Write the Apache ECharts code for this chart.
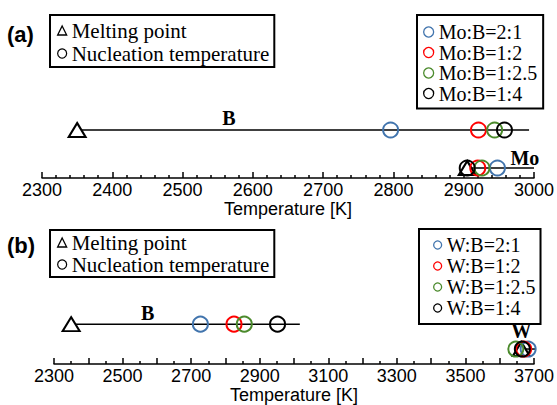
<!DOCTYPE html>
<html><head><meta charset="utf-8">
<script src="https://cdn.jsdelivr.net/npm/echarts@6/dist/echarts.min.js"></script>
<style>html,body{margin:0;padding:0;background:#fff}#c{width:557px;height:405px}</style>
</head><body><div id="c"></div>
<script>
// ---------- Panel (a): Mo-B ----------
const ratiosA   = ['Mo:B=2:1', 'Mo:B=1:2', 'Mo:B=1:2.5', 'Mo:B=1:4'];
const nucA_onB  = [2796, 2921, 2944, 2958];   // nucleation temperatures on the B row
const nucA_onMo = [2948, 2920, 2926, 2905];   // nucleation temperatures on the Mo row
const meltA     = [2350, 2905];               // melting points: B, Mo
const lineEndA  = [2993, 3000];               // end of B row line, Mo row line
const elemA     = ['B', 'Mo'];
const elemXA    = [2566, 2987];
const ticksA    = [2300, 2400, 2500, 2600, 2700, 2800, 2900, 3000];

// ---------- Panel (b): W-B ----------
const ratiosB   = ['W:B=2:1', 'W:B=1:2', 'W:B=1:2.5', 'W:B=1:4'];
const nucB_onB  = [2727, 2825, 2855, 2952];
const nucB_onW  = [3683, 3670, 3647, 3666];
const meltB     = [2350, 3663];               // melting points: B, W
const lineEndB  = [3017, 3718];
const elemB     = ['B', 'W'];
const elemXB    = [2573, 3663];
const ticksB    = [2300, 2500, 2700, 2900, 3100, 3300, 3500, 3700];

const markerNames = ['Melting point', 'Nucleation temperature'];
const colors = ['#4174ad', '#ff0000', '#4b8a2c', '#000000'];

// row levels inside each grid (hidden y axis)
const ROW_A = [48, 10];   // B row, Mo row
const ROW_B = [45, 17];   // B row, W row
const LBL_A = [12, 10];
const LBL_B = [13, 20];

const serif = 'Liberation Serif';
const sans = 'Liberation Sans';

function rowLine(id, gi, x0, x1, y) {
  return {type: 'line', name: id, xAxisIndex: gi, yAxisIndex: gi, data: [[x0, y], [x1, y]],
    showSymbol: false, symbol: 'none', clip: false, silent: true, z: 1,
    lineStyle: {color: '#000', width: 1.5}};
}
function meltSeries(gi, melt, rows) {
  return {type: 'scatter', name: markerNames[0], xAxisIndex: gi, yAxisIndex: gi,
    data: [[melt[0], rows[0]], [melt[1], rows[1]]], symbol: 'triangle', symbolSize: [17, 14],
    clip: false, z: 2, itemStyle: {color: '#fff', borderColor: '#000', borderWidth: 2, opacity: 1}};
}
function nucSeries(gi, names, onB, onX, rows) {
  return names.map((n, i) => ({type: 'scatter', name: n, xAxisIndex: gi, yAxisIndex: gi,
    data: [[onB[i], rows[0]], [onX[i], rows[1]]], symbol: 'circle', symbolSize: 15, clip: false, z: 3 + i,
    itemStyle: {color: 'rgba(255,255,255,0)', borderColor: colors[i], borderWidth: 2, opacity: 1}}));
}
function elemLabels(gi, names, xs, rows, offs) {
  return {type: 'scatter', name: 'elem' + gi, xAxisIndex: gi, yAxisIndex: gi, symbolSize: 0, silent: true,
    clip: false, z: 10, itemStyle: {color: '#000', opacity: 1},
    data: names.map((n, i) => ({name: n, value: [xs[i], rows[i] + offs[i]]})),
    label: {show: true, position: 'inside', formatter: p => p.name,
      fontFamily: serif, fontWeight: 'bold', fontSize: 20, color: '#000',
      textBorderWidth: 0, textBorderColor: 'transparent', textShadowBlur: 0}};
}
function xAxis(gi, min, max, minorSplit, labels, gap) {
  return {type: 'value', gridIndex: gi, min: min, max: max, interval: 100,
    axisLine: {show: true, lineStyle: {color: '#000', width: 1.5}},
    axisTick: {show: true, inside: true, length: 6, lineStyle: {color: '#000', width: 1.5}},
    minorTick: {show: true, splitNumber: minorSplit, length: 3, lineStyle: {color: '#000', width: 1.5}},
    splitLine: {show: false},
    axisLabel: {margin: 3, fontFamily: sans, fontSize: 18, color: '#000',
      formatter: v => labels.indexOf(v) >= 0 ? String(v) : ''},
    name: 'Temperature [K]', nameLocation: 'middle', nameGap: gap,
    nameTextStyle: {fontFamily: sans, fontSize: 18, color: '#000'}};
}
function legendBox(data, left, top, font, gap, iw, pad) {
  return {data: data, left: left, top: top, orient: 'vertical', selectedMode: false,
    itemWidth: iw, itemHeight: iw, itemGap: gap, padding: pad,
    borderColor: '#000', borderWidth: 2, borderRadius: 0, backgroundColor: '#fff',
    itemStyle: {borderWidth: 1.3},
    textStyle: {fontFamily: serif, fontSize: font, color: '#000', lineHeight: 19, padding: [0, 0, 0, 0]}};
}
const markerLegend = [
  {name: markerNames[0]},
  {name: markerNames[1], icon: 'circle', itemStyle: {color: '#fff', borderColor: '#000', borderWidth: 1.2}}
];

const chart = echarts.init(document.getElementById('c'), null, {renderer: 'svg'});
chart.setOption({
  animation: false,
  backgroundColor: '#fff',
  grid: [
    {left: 42, right: 20, top: 120, height: 58},
    {left: 54, right: 20, top: 310, height: 61}
  ],
  xAxis: [xAxis(0, 2300, 3000, 5, ticksA, 20), xAxis(1, 2300, 3700, 2, ticksB, 18)],
  yAxis: [
    {type: 'value', gridIndex: 0, min: 0, max: 58, show: false},
    {type: 'value', gridIndex: 1, min: 0, max: 61, show: false}
  ],
  legend: [
    legendBox(markerLegend, 50, 15, 21, 2, 9, [5, 5, 3, 7]),
    legendBox(ratiosA, 417, 15, 20, 0.5, 10, [7, 6, 5, 6]),
    legendBox(markerLegend, 50, 230, 21, 1, 9, [2, 5, 2, 7]),
    legendBox(ratiosB, 419, 229, 20, 1, 8, [6, 5, 6, 14])
  ],
  graphic: [
    {type: 'text', left: 7, top: 23, style: {text: '(a)', font: 'bold 22px "Liberation Sans"', fill: '#000'}},
    {type: 'text', left: 7, top: 234, style: {text: '(b)', font: 'bold 22px "Liberation Sans"', fill: '#000'}}
  ],
  series: [
    rowLine('lineA_B', 0, meltA[0], lineEndA[0], ROW_A[0]),
    rowLine('lineA_Mo', 0, meltA[1], lineEndA[1], ROW_A[1]),
    rowLine('lineB_B', 1, meltB[0], lineEndB[0], ROW_B[0]),
    rowLine('lineB_W', 1, meltB[1], lineEndB[1], ROW_B[1]),
    meltSeries(0, meltA, ROW_A),
    meltSeries(1, meltB, ROW_B),
    {type: 'scatter', name: markerNames[1], xAxisIndex: 0, yAxisIndex: 0, data: [],
      symbol: 'circle', symbolSize: 15,
      itemStyle: {color: 'rgba(255,255,255,0)', borderColor: '#000', borderWidth: 1.2, opacity: 1}},
    ...nucSeries(0, ratiosA, nucA_onB, nucA_onMo, ROW_A),
    ...nucSeries(1, ratiosB, nucB_onB, nucB_onW, ROW_B),
    elemLabels(0, elemA, elemXA, ROW_A, LBL_A),
    elemLabels(1, elemB, elemXB, ROW_B, LBL_B)
  ]
});
</script></body></html>
